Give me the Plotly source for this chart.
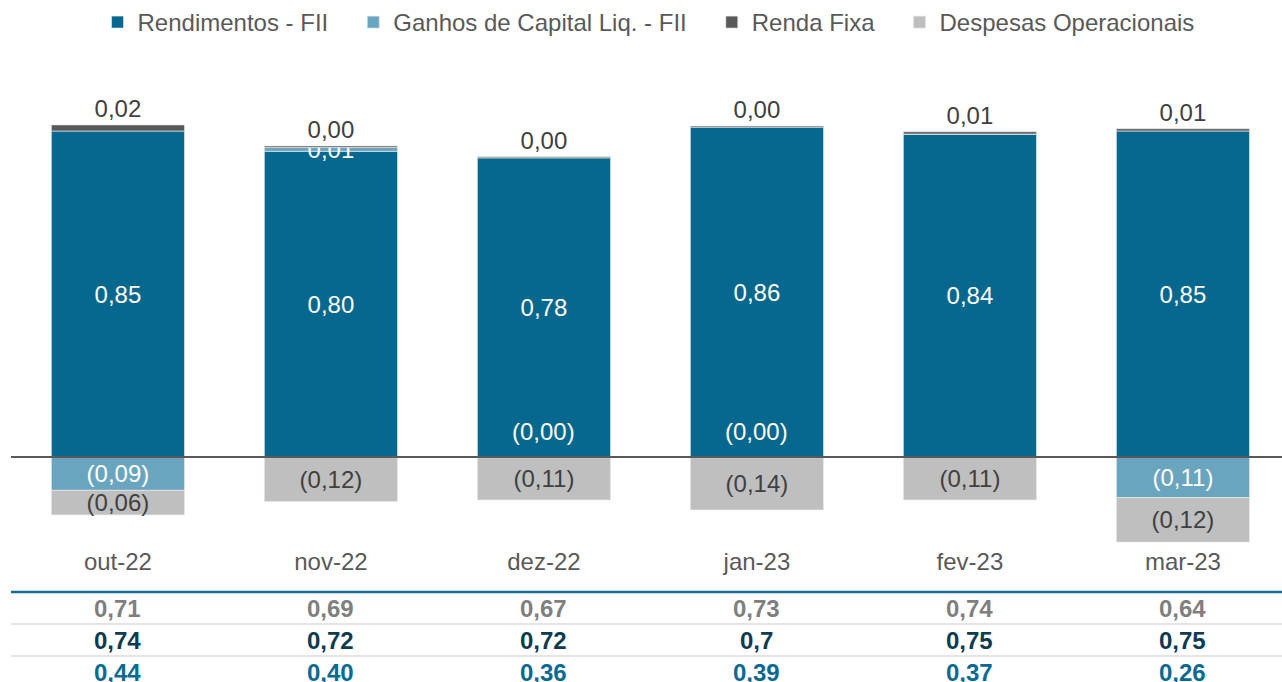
import plotly.graph_objects as go

# ---------------- data ----------------
categories = ["out-22", "nov-22", "dez-22", "jan-23", "fev-23", "mar-23"]
series_names = ["Rendimentos - FII", "Ganhos de Capital Liq. - FII",
                "Renda Fixa", "Despesas Operacionais"]
rendimentos_fii = [0.85, 0.797, 0.78, 0.86, 0.842, 0.85]
ganhos_capital_fii = [-0.087, 0.010, -0.002, -0.002, 0.0, -0.106]
renda_fixa = [0.016, 0.004, 0.003, 0.003, 0.006, 0.006]
despesas_operacionais = [-0.064, -0.116, -0.11, -0.136, -0.112, -0.116]

table_row1 = [0.71, 0.69, 0.67, 0.73, 0.74, 0.64]
table_row2 = [0.74, 0.72, 0.72, 0.70, 0.75, 0.75]
table_row3 = [0.44, 0.40, 0.36, 0.39, 0.37, 0.26]

FONT = "Liberation Sans, Arial, sans-serif"
C_REND = "#06688E"
C_GANHO = "#6AA5C0"
C_RF = "#595959"
C_DESP = "#BFBFBF"
TXT_DARK = "#404040"


def fmt(v):
    s = f"{abs(v):.2f}".replace(".", ",")
    return f"({s})" if v < 0 else s


def fmt_g(v):
    return f"{v:g}".replace(".", ",")


# ganhos labels: tiny negative values are labelled separately above zero
ganho_text = []
ganho_special = []
for c, v in zip(categories, ganhos_capital_fii):
    if v == 0:
        ganho_text.append("")
    elif v < 0 and round(abs(v), 2) == 0:
        ganho_text.append("")
        ganho_special.append((c, fmt(v)))
    else:
        ganho_text.append(fmt(v))

PAD = "\u00a0" * 3  # extra spacing between legend entries
legend_names = [n + PAD for n in series_names[:-1]] + [series_names[-1]]

line_style = dict(color="rgba(235,235,235,0.8)", width=0.8)

fig = go.Figure()
fig.add_trace(go.Bar(
    name=legend_names[0], x=categories, y=rendimentos_fii,
    marker=dict(color=C_REND, line=line_style),
    text=[fmt(v) for v in rendimentos_fii], textposition="inside",
    insidetextanchor="middle", textangle=0,
    textfont=dict(color="white", size=24, family=FONT),
))
fig.add_trace(go.Bar(
    name=legend_names[1], x=categories, y=ganhos_capital_fii,
    marker=dict(color=C_GANHO, line=line_style),
    text=ganho_text, textposition="inside", insidetextanchor="middle",
    textangle=0, textfont=dict(color="white", size=24, family=FONT),
))
fig.add_trace(go.Bar(
    name=legend_names[2], x=categories, y=renda_fixa,
    marker=dict(color=C_RF, line=line_style),
    text=[fmt(v) for v in renda_fixa], textposition="outside", textangle=0,
    textfont=dict(color=TXT_DARK, size=24, family=FONT),
))
fig.add_trace(go.Bar(
    name=legend_names[3], x=categories, y=despesas_operacionais,
    marker=dict(color=C_DESP, line=line_style),
    text=[fmt(v) for v in despesas_operacionais], textposition="inside",
    insidetextanchor="middle", textangle=0,
    textfont=dict(color=TXT_DARK, size=24, family=FONT),
))
fig.update_traces(cliponaxis=False, constraintext="none")

PLOT_TOP, PLOT_BOTTOM = 50, 545


def paper_y(p):
    return (PLOT_BOTTOM - p) / (PLOT_BOTTOM - PLOT_TOP)


annotations = []
for c, t in ganho_special:
    annotations.append(dict(x=c, y=0, xref="x", yref="y", text=t,
                            showarrow=False, yanchor="bottom", yshift=10,
                            font=dict(color="white", size=24, family=FONT)))

rows = [
    (table_row1, fmt, "#7F7F7F", 608),
    (table_row2, fmt_g, "#0C3B52", 640),
    (table_row3, fmt, "#0B6A93", 672),
]
for vals, f, col, py in rows:
    for c, v in zip(categories, vals):
        annotations.append(dict(x=c, y=paper_y(py), xref="x", yref="paper",
                                text=f"<b>{f(v)}</b>", showarrow=False,
                                yanchor="middle",
                                font=dict(color=col, size=24, family=FONT)))

shapes = [
    dict(type="line", xref="paper", yref="y", x0=0, x1=1, y0=0, y1=0,
         line=dict(color="#595959", width=2), layer="above"),
    dict(type="line", xref="paper", yref="paper", x0=0, x1=1,
         y0=paper_y(592), y1=paper_y(592), line=dict(color="#1A6A94", width=2.5)),
    dict(type="line", xref="paper", yref="paper", x0=0, x1=1,
         y0=paper_y(624), y1=paper_y(624), line=dict(color="#DDDDDD", width=1.5)),
    dict(type="line", xref="paper", yref="paper", x0=0, x1=1,
         y0=paper_y(656), y1=paper_y(656), line=dict(color="#DDDDDD", width=1.5)),
]

fig.update_layout(
    width=1282, height=682,
    margin=dict(l=11, r=0, t=PLOT_TOP, b=682 - PLOT_BOTTOM),
    barmode="relative", bargap=0.375,
    paper_bgcolor="white", plot_bgcolor="white",
    font=dict(family=FONT, size=24, color="#595959"),
    showlegend=True,
    legend=dict(orientation="h", x=0.5016, xanchor="center", y=1, yanchor="top",
                yref="container", itemwidth=30,
                font=dict(size=24, color="#595959", family=FONT)),
    xaxis=dict(type="category", range=[-0.502, 5.465], showgrid=False,
               showline=False, ticks="", zeroline=False,
               tickfont=dict(size=24, color="#595959", family=FONT)),
    yaxis=dict(range=[-0.2295, 1.0613], showgrid=False, showticklabels=False,
               zeroline=False, showline=False, ticks=""),
    annotations=annotations,
    shapes=shapes,
)

fig.write_html(
    "out.html",
    config={"displayModeBar": False},
    post_script="document.body.style.margin='0';document.body.style.overflow='hidden';",
)
